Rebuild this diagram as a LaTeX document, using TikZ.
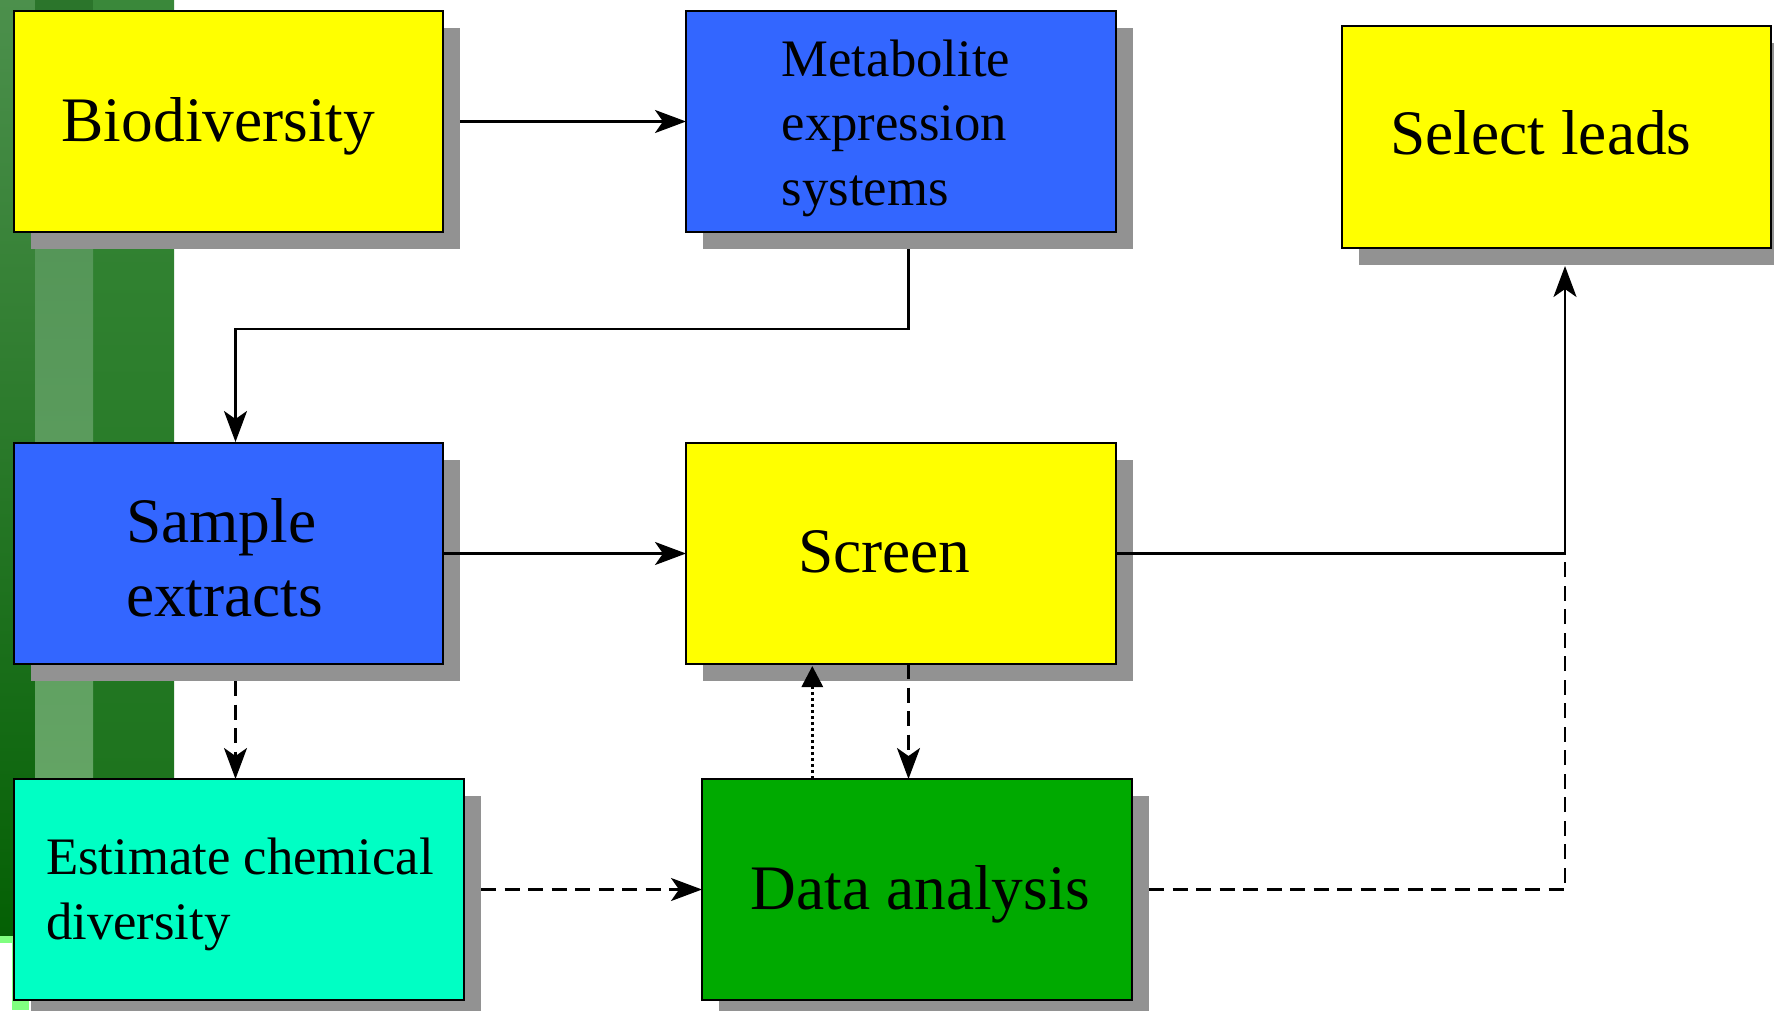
\documentclass[tikz,border=0pt]{standalone}
\usepackage{fontspec}
\setmainfont{Liberation Serif}
\usetikzlibrary{arrows.meta,calc,shadows}
\definecolor{byellow}{HTML}{FFFF00}
\definecolor{bblue}{HTML}{3366FF}
\definecolor{bcyan}{HTML}{00FFC4}
\definecolor{bgreen}{HTML}{00AA00}
\definecolor{shadowgray}{HTML}{929292}
\definecolor{lgreen}{HTML}{80FF80}
\definecolor{gAtop}{HTML}{4C904C}
\definecolor{gAbot}{HTML}{046004}
\definecolor{gBtop}{HTML}{4E9052}
\definecolor{gBbot}{HTML}{68A868}
\definecolor{gCtop}{HTML}{3A883A}
\definecolor{gCbot}{HTML}{187018}
\definecolor{gBcap}{HTML}{2B752B}
\tikzset{
  box/.style={draw=black, line width=2.5pt, anchor=north west, inner sep=0pt, outer sep=0pt,
    general shadow={shadow xshift=17pt, shadow yshift=-17pt, fill=shadowgray}},
  txt/.style={anchor=base west, inner sep=0pt, outer sep=0pt, align=left},
  bigtxt/.style={txt, font=\fontsize{63.4}{74}\selectfont},
  smalltxt/.style={txt, font=\fontsize{52.7}{64.5}\selectfont},
  conn/.style={line width=2.5pt, -{Stealth[length=31pt, width=23pt, inset=8pt]}},
  dconn/.style={conn, dash pattern=on 15pt off 8.5pt},
  dotconn/.style={line width=3.2pt, dash pattern=on 3pt off 3pt, -{Triangle[length=21pt, width=21pt]}}
}
\begin{document}
\begin{tikzpicture}[x=1pt, y=-1pt]
\clip (0,0) rectangle (1774,1010);
\fill[white] (0,0) rectangle (1774,1010);
% background strip
\shade[top color=gCtop, bottom color=gCbot] (0,0) rectangle (174,936);
\shade[top color=gAtop, bottom color=gAbot] (0,0) rectangle (35,936);
\fill[gBcap] (35,0) rectangle (93,11);
\shade[top color=gBtop, bottom color=gBbot] (35,11) rectangle (93,936);
\fill[lgreen] (0,936) rectangle (29,943);
\fill[lgreen] (12,943) rectangle (29,1010);
% boxes
\node[box, fill=byellow, minimum width=429pt, minimum height=221pt] (bio) at (14,11) {};
\node[box, fill=bblue, minimum width=430pt, minimum height=221pt] (meta) at (686,11) {};
\node[box, fill=byellow, minimum width=429pt, minimum height=222pt] (sel) at (1342,26) {};
\node[box, fill=bblue, minimum width=429pt, minimum height=221pt] (samp) at (14,443) {};
\node[box, fill=byellow, minimum width=430pt, minimum height=221pt] (scr) at (686,443) {};
\node[box, fill=bcyan, minimum width=450pt, minimum height=221pt] (est) at (14,779) {};
\node[box, fill=bgreen, minimum width=430pt, minimum height=221pt] (data) at (702,779) {};
% texts (multi-line nodes: base = last line)
\node[bigtxt] (bio-t) at (61.7,141) {Biodiversity};
\node[smalltxt] (meta-t) at (781.7,205) {Metabolite\\expression\\systems};
\node[bigtxt] (sel-t) at (1390.5,154) {Select leads};
\node[bigtxt] (samp-t) at (126,616.2) {Sample\\extracts};
\node[bigtxt] (scr-t) at (798,572.7) {Screen};
\node[smalltxt] (est-t) at (46,939.3) {Estimate chemical\\diversity};
\node[bigtxt] (data-t) at (750.7,909.3) {Data analysis};
% helper coordinates
\coordinate (selin) at ($(sel.south)+(8.5,18)$);
\coordinate (sa) at ($(samp.south)+(7,17)$);
\coordinate (sd) at ($(scr.south)+(7.5,0)$);
\coordinate (ds) at ($(data.north)+(-104.7,0)$);
% connectors
\draw[conn] ($(bio.east)+(17,0)$) -- (meta.west);
\draw[conn] ($(meta.south)+(7.5,17)$) -- ++(0,80) -| ($(samp.north)+(7,-1)$);
\draw[conn] (samp.east) -- (scr.west);
\draw[conn] (scr.east) -| (selin);
\draw[dconn, -] ($(data.east)+(17,0)$) -| (selin |- scr.east);
\draw[dconn] (sa) -- (sa |- est.north);
\draw[dconn] ($(est.east)+(17,0)$) -- (data.west);
\draw[dconn] (sd) -- (sd |- data.north);
\draw[dotconn] (ds) -- ($(ds |- scr.south)+(0,2)$);
\end{tikzpicture}
\end{document}
